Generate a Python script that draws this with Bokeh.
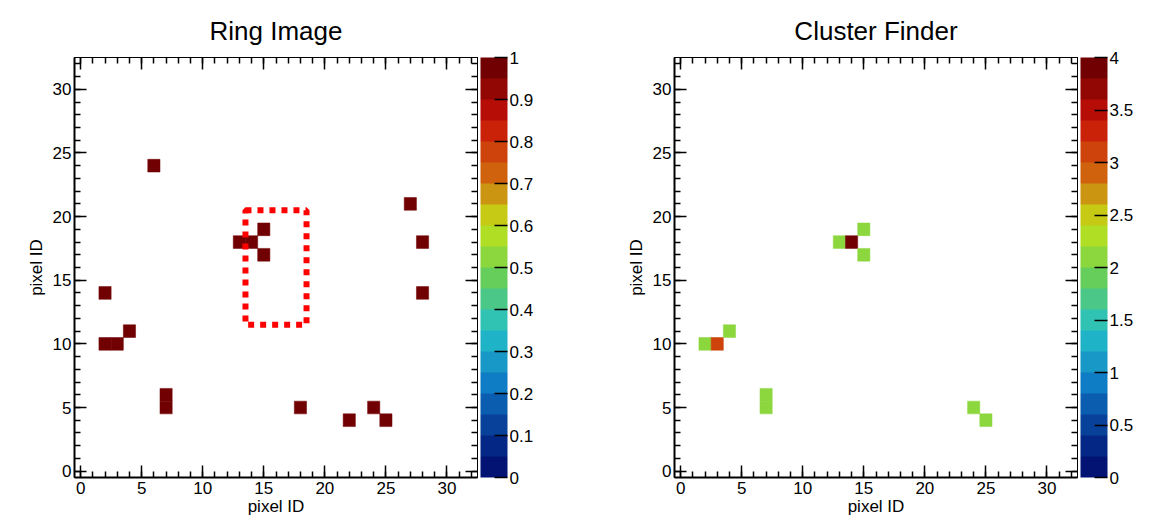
import numpy as np
from bokeh.plotting import figure
from bokeh.models import (ColumnDataSource, LinearColorMapper, ColorBar, FixedTicker,
                          SingleIntervalTicker, LinearAxis, CustomJSTickFormatter, Range1d)
from bokeh.transform import transform
from bokeh.layouts import row
from bokeh.embed import file_html
from bokeh.resources import INLINE

# ---------------- data ----------------
ring_x = [6, 13, 14, 15, 15, 2, 2, 3, 4, 7, 7, 18, 22, 24, 25, 27, 28, 28]
ring_y = [24, 18, 18, 19, 17, 14, 10, 10, 11, 5, 6, 5, 4, 5, 4, 21, 18, 14]
ring_v = [1, 1, 1, 1, 1, 1, 1, 1, 1, 1, 1, 1, 1, 1, 1, 1, 1, 1]

cluster_x = [2, 3, 4, 7, 7, 13, 14, 15, 15, 24, 25]
cluster_y = [10, 10, 11, 5, 6, 18, 18, 19, 17, 5, 4]
cluster_v = [2, 3, 2, 2, 2, 2, 4, 2, 2, 2, 2]

box_x = [13.5, 18.5]
box_y = [11.5, 20.5]

ring_cticks = [0, 0.1, 0.2, 0.3, 0.4, 0.5, 0.6, 0.7, 0.8, 0.9, 1.0]
cluster_cticks = [0, 0.5, 1, 1.5, 2, 2.5, 3, 3.5, 4]

titles = ["Ring Image", "Cluster Finder"]
axis_title = "pixel ID"

# ---------------- palette (ROOT kRainBow, 20 contours) ----------------
stops = [0.0, 0.125, 0.25, 0.375, 0.5, 0.625, 0.75, 0.875, 1.0]
red = [0, 5, 15, 35, 102, 196, 208, 199, 110]
green = [0, 48, 124, 192, 206, 226, 97, 16, 0]
blue = [99, 142, 198, 201, 90, 22, 13, 8, 2]
ncol = 255
table = []
for g in range(1, len(stops)):
    a = int(np.floor(ncol * stops[g - 1]))
    b = int(np.floor(ncol * stops[g]))
    n = b - a
    for c in range(n):
        table.append(tuple(col[g - 1] + c * (col[g] - col[g - 1]) / n for col in (red, green, blue)))
ndiv = 20
palette = []
for i in range(ndiv):
    r, gg, bb = table[int((i + 0.99) * ncol / ndiv)]
    palette.append("#%02x%02x%02x" % (int(round(r)), int(round(gg)), int(round(bb))))

FONT = "Liberation Sans"
HEIGHT = 520


def style_axis(ax, show_labels=True):
    ax.ticker = SingleIntervalTicker(interval=5, num_minor_ticks=5)
    ax.major_tick_in = 12
    ax.major_tick_out = 0
    ax.minor_tick_in = 6
    ax.minor_tick_out = 0
    ax.major_tick_line_color = "black"
    ax.minor_tick_line_color = "black"
    ax.major_tick_line_width = 1.5
    ax.minor_tick_line_width = 1.5
    ax.axis_line_color = "black"
    if show_labels:
        ax.axis_line_width = 2
        ax.major_label_text_font = FONT
        ax.major_label_text_font_size = "17px"
        ax.major_label_text_color = "black"
        ax.axis_label_text_font = FONT
        ax.axis_label_text_font_size = "17px"
        ax.axis_label_text_font_style = "normal"
        ax.axis_label_text_color = "black"
    else:
        ax.axis_line_width = 1
        ax.major_label_text_color = None
        ax.major_label_text_font_size = "1px"
        ax.major_label_standoff = 0


def make_panel(title, xs, ys, vs, high, cticks, width, right_border):
    src = ColumnDataSource(dict(x=xs, y=ys, v=vs))
    mapper = LinearColorMapper(palette=palette, low=0, high=high)
    p = figure(width=width, height=HEIGHT,
               x_range=Range1d(-0.5, 32.5), y_range=Range1d(-0.5, 32.5),
               output_backend="svg", toolbar_location=None,
               min_border_left=74, min_border_right=right_border,
               min_border_top=57, min_border_bottom=43, title=title)
    p.rect(x="x", y="y", width=1, height=1, source=src,
           fill_color=transform("v", mapper), line_color=transform("v", mapper), line_width=0.5)

    p.xgrid.grid_line_color = None
    p.ygrid.grid_line_color = None
    p.outline_line_color = "black"
    p.outline_line_width = 1
    p.background_fill_color = "white"
    p.border_fill_color = "white"

    style_axis(p.xaxis[0])
    style_axis(p.yaxis[0])
    p.xaxis[0].axis_label = axis_title
    p.yaxis[0].axis_label = axis_title
    p.xaxis[0].major_label_standoff = 4
    p.xaxis[0].axis_label_standoff = 0
    p.yaxis[0].major_label_standoff = 3
    p.yaxis[0].axis_label_standoff = 4

    top_ax = LinearAxis()
    style_axis(top_ax, show_labels=False)
    p.add_layout(top_ax, "above")
    right_ax = LinearAxis()
    style_axis(right_ax, show_labels=False)
    p.add_layout(right_ax, "right")

    cb = ColorBar(color_mapper=mapper, ticker=FixedTicker(ticks=cticks),
                  formatter=CustomJSTickFormatter(code="return String(Math.round(tick*10)/10);"),
                  width=27, margin=0, padding=0, location=(3, 0), label_standoff=2,
                  major_tick_in=13, major_tick_out=0, major_tick_line_color="black",
                  major_tick_line_width=1.5,
                  minor_tick_line_color=None, bar_line_color=None, border_line_color=None,
                  background_fill_color=None,
                  major_label_text_font=FONT, major_label_text_font_size="17px",
                  major_label_text_color="black")
    p.add_layout(cb, "right")

    p.title.text_font = FONT
    p.title.text_font_size = "26px"
    p.title.text_font_style = "normal"
    p.title.text_color = "black"
    p.title.align = "center"
    p.title.standoff = 24
    return p


p1 = make_panel(titles[0], ring_x, ring_y, ring_v, 1.0, ring_cticks, 600, 123)
p1.quad(left=box_x[0], right=box_x[1], bottom=box_y[0], top=box_y[1],
        fill_color=None, line_color="#ff0000", line_width=6, line_dash="6 6")
p2 = make_panel(titles[1], cluster_x, cluster_y, cluster_v, 4.0, cluster_cticks, 552, 75)

layout = row(p1, p2)
open("out.html", "w").write(file_html(layout, INLINE))
